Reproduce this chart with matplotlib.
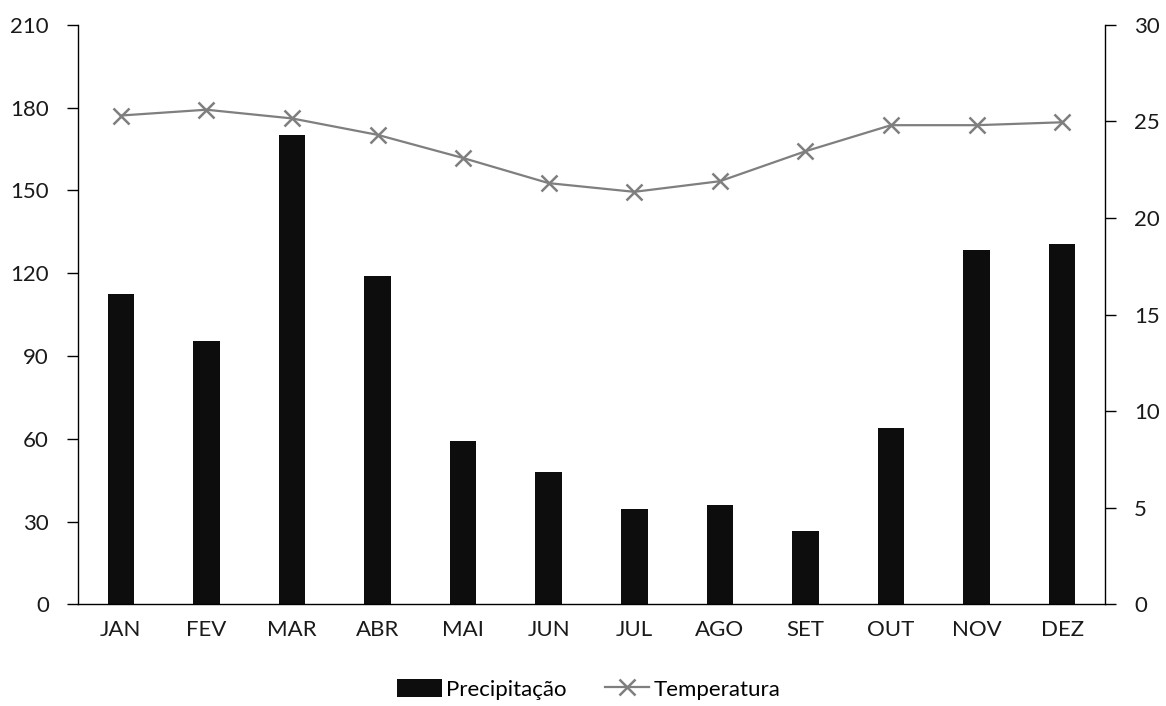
import matplotlib
matplotlib.use("Agg")
import matplotlib.pyplot as plt
import numpy as np

months = ["JAN", "FEV", "MAR", "ABR", "MAI", "JUN", "JUL", "AGO", "SET", "OUT", "NOV", "DEZ"]
precipitacao = [112.5, 95.5, 170, 119, 59, 48, 34.5, 36, 26.5, 64, 128.5, 130.5]
temperatura = [25.3, 25.6, 25.15, 24.3, 23.1, 21.8, 21.35, 21.9, 23.45, 24.8, 24.8, 24.95]
left_ticks = [0, 30, 60, 90, 120, 150, 180, 210]
right_ticks = [0, 5, 10, 15, 20, 25, 30]

plt.rcParams['font.family'] = ['Lato', 'DejaVu Sans']
plt.rcParams['font.size'] = 16

fig = plt.figure(figsize=(11.66, 7.06), dpi=100)
ax = fig.add_axes([0.0669, 0.144, 0.8808, 0.821])
ax2 = ax.twinx()

x = np.arange(len(months))
bars = ax.bar(x, precipitacao, width=0.31, color="#0d0d0d", label="Precipitação", zorder=2)
line, = ax2.plot(x, temperatura, color="#7f7f7f", lw=1.6, marker="x", ms=11, mew=1.8,
                 label="Temperatura", zorder=3)

ax.set_xlim(-0.5, len(months) - 0.5)
ax.set_ylim(0, 210)
ax.set_yticks(left_ticks)
ax2.set_ylim(0, 30)
ax2.set_yticks(right_ticks)
ax.set_xticks(x)
ax.set_xticklabels(months)

for a in (ax, ax2):
    a.spines["top"].set_visible(False)
    for s in a.spines.values():
        s.set_linewidth(1.0)
        s.set_color("black")
ax.spines["right"].set_visible(False)
ax2.spines["left"].set_visible(False)
ax2.spines["bottom"].set_visible(False)

# x labels sit below the axis, no tick marks; y ticks point outwards
ax.tick_params(axis="x", length=0, pad=11, labelsize=16)
ax.tick_params(axis="y", length=8, width=1, pad=13, labelsize=16)
ax2.tick_params(axis="y", length=8, width=1, pad=13, labelsize=16)
ax.tick_params(axis="both", labelcolor="#1a1a1a", color="black")
ax2.tick_params(labelcolor="#1a1a1a", color="black")

fig.legend([bars, line], ["Precipitação", "Temperatura"], loc="center",
           bbox_to_anchor=(0.505, 0.024), ncol=2, frameon=False,
           handlelength=2.0, handleheight=0.9, handletextpad=0.2,
           columnspacing=1.7, fontsize=16)

fig.savefig("out.png", dpi=100)
